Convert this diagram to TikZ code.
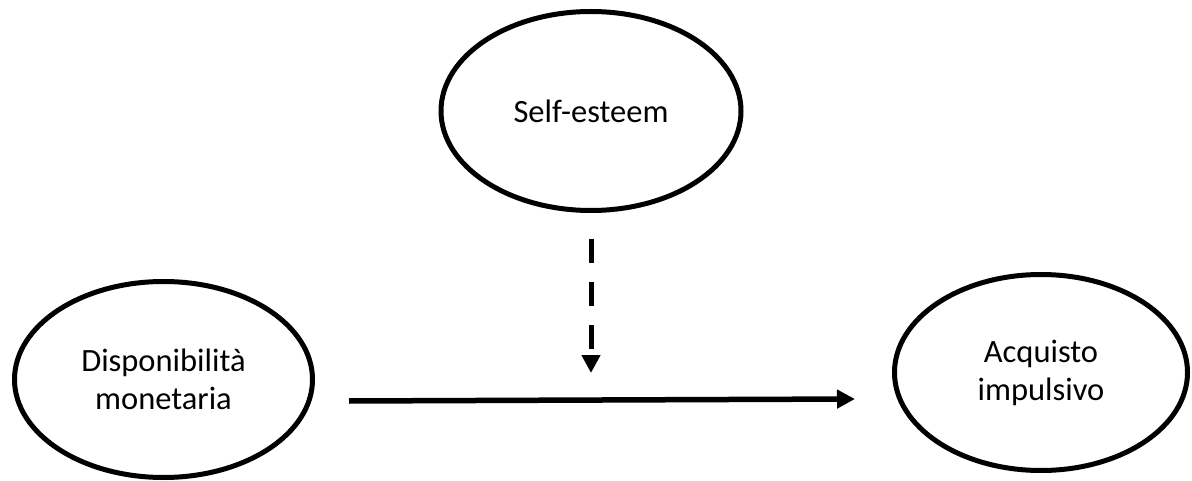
\documentclass[tikz,border=0pt]{standalone}
\usepackage{fontspec}
\setmainfont{Carlito}
\usetikzlibrary{shapes.geometric,arrows.meta}
\tikzset{
  var/.style={ellipse, draw=black, line width=5pt, align=center,
    font=\fontsize{32.5}{38}\selectfont, inner sep=0pt},
  mainarrow/.style={draw=black, line width=5.5pt, -{Triangle[length=18pt,width=18pt]}},
  modarrow/.style={draw=black, line width=5pt, dash pattern=on 24pt off 19pt,
    -{Triangle[length=18pt,width=18pt]}}
}
\begin{document}
\begin{tikzpicture}[x=1pt,y=1pt]
\useasboundingbox (0,0) rectangle (1192,-481);
\node[var, minimum width=300pt, minimum height=199pt] (S) at (591,-111) {Self-esteem};
\node[var, minimum width=298pt, minimum height=196pt] (L) at (163.5,-379.5) {Disponibilità\\monetaria};
\node[var, minimum width=293pt, minimum height=196pt] (R) at (1041,-372.5) {Acquisto\\impulsivo};
\coordinate (a) at (349,-401);
\coordinate (b) at (855,-399);
\coordinate (m) at (591,-373);
\draw[mainarrow] (a) -- (b);
\draw[modarrow, shorten <=26pt] (S.south) -- (m);
\end{tikzpicture}
\end{document}
